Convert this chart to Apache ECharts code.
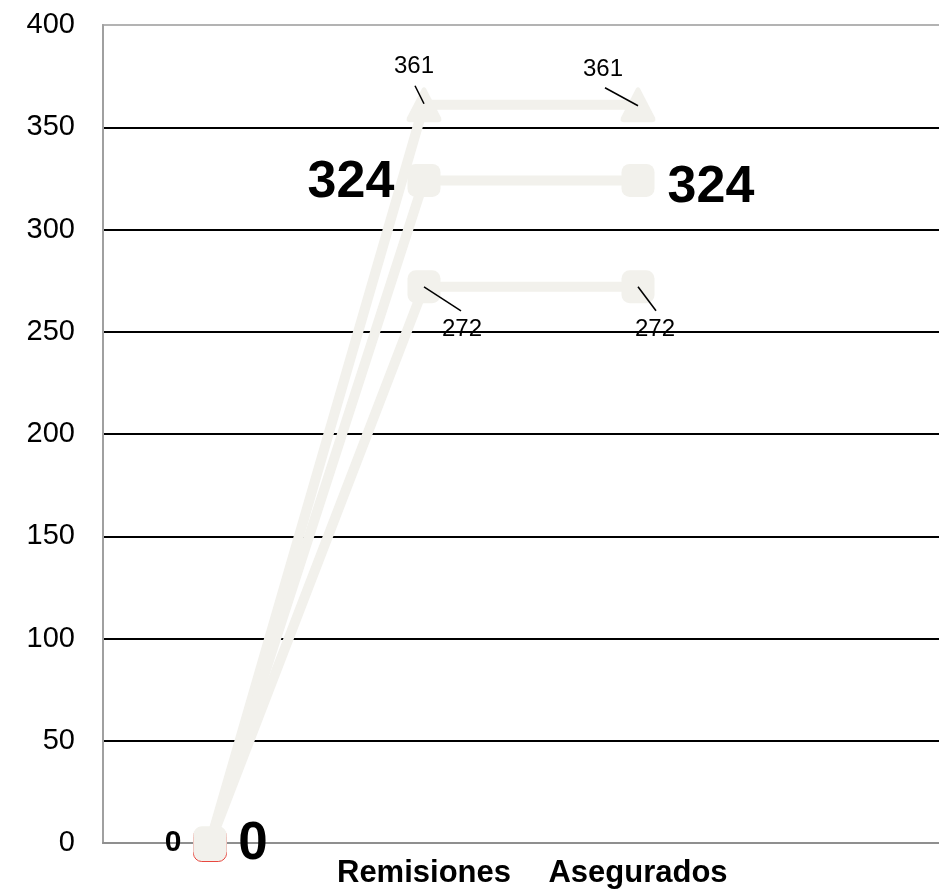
<!DOCTYPE html>
<html><head><meta charset="utf-8">
<script src="https://cdn.jsdelivr.net/npm/echarts@6/dist/echarts.min.js"></script>
<style>html,body{margin:0;padding:0;background:#fff}#chart{width:939px;height:896px}</style>
</head><body><div id="chart"></div>
<script>
// ---- data ----
const categories = ['', 'Remisiones', 'Asegurados', ''];
const valuesA = [0, 361, 361];
const valuesB = [0, 324, 324];
const valuesC = [0, 272, 272];
const yMin = 0, yMax = 400, yStep = 50;

// ---- label styling (pixel offsets relative to each point) ----
const FONT = '"Liberation Sans", Arial, sans-serif';
const labelStyleA = [
  null,
  { dx: -10, dy: -38, size: 24, bold: false, lead: [0, -1, -9, -19] },
  { dx: -35, dy: -35, size: 24, bold: false, lead: [0, 1, -33, -17] }
];
const labelStyleB = [
  { dx: 43, dy: 1, size: 53, bold: true },
  { dx: -73, dy: 2, size: 52, bold: true },
  { dx: 73, dy: 7, size: 52, bold: true }
];
const labelStyleC = [
  { dx: -37, dy: 0, size: 30, bold: true },
  { dx: 38, dy: 43, size: 24, bold: false, lead: [0, 0, 37, 24] },
  { dx: 17, dy: 43, size: 24, bold: false, lead: [0, 0, 18, 24] }
];

const LINE_COLOR = '#f2f1ec';
const ROUND_TRIANGLE = 'path://M44,4 Q50,-4 56,4 L98,86 Q104,100 90,100 L10,100 Q-4,100 2,86 Z';

function lineSeries(values, symbol, size, firstItemExtra) {
  return {
    type: 'line',
    data: values.map((v, i) => (i === 0 && firstItemExtra) ? Object.assign({ value: v }, firstItemExtra) : v),
    symbol: symbol,
    symbolSize: size,
    showAllSymbol: true,
    lineStyle: { color: LINE_COLOR, width: 10 },
    itemStyle: { color: LINE_COLOR, opacity: 1 },
    emphasis: { disabled: true },
    silent: true,
    z: 3
  };
}

function labelSeries(values, styles) {
  return {
    type: 'custom',
    data: values.map((v, i) => [i, v]),
    encode: { x: 0, y: 1 },
    clip: false,
    silent: true,
    z: 10,
    renderItem: function (params, api) {
      const st = styles[params.dataIndex];
      if (!st) return null;
      const p = api.coord([api.value(0), api.value(1)]);
      const children = [];
      if (st.lead) {
        children.push({
          type: 'line',
          shape: { x1: p[0] + st.lead[0], y1: p[1] + st.lead[1], x2: p[0] + st.lead[2], y2: p[1] + st.lead[3] },
          style: { stroke: '#000', lineWidth: 1.5 }
        });
      }
      children.push({
        type: 'text',
        style: {
          x: p[0] + st.dx, y: p[1] + st.dy,
          text: String(api.value(1)),
          fill: '#000',
          font: (st.bold ? 'bold ' : '') + st.size + 'px ' + FONT,
          align: 'center', verticalAlign: 'middle'
        }
      });
      return { type: 'group', children: children };
    }
  };
}

const chart = echarts.init(document.getElementById('chart'), null, { renderer: 'canvas' });
chart.setOption({
  animation: false,
  backgroundColor: '#fff',
  grid: {
    left: 103, top: 25, width: 856, height: 818,
    outerBoundsMode: 'none', containLabel: false,
    show: true, borderColor: '#b3b3b3', borderWidth: 2, backgroundColor: 'transparent'
  },
  xAxis: {
    type: 'category',
    data: categories,
    boundaryGap: true,
    axisLine: { show: true, lineStyle: { color: '#8f8f8f', width: 2 } },
    axisTick: { show: false },
    axisLabel: { interval: 0, color: '#000', fontSize: 31, fontWeight: 'bold', fontFamily: FONT, margin: 15 },
    splitLine: { show: false }
  },
  yAxis: {
    type: 'value',
    min: yMin, max: yMax, interval: yStep,
    axisLine: { show: true, lineStyle: { color: '#a0a0a0', width: 2 } },
    axisTick: { show: false },
    axisLabel: { color: '#000', fontSize: 29, fontFamily: FONT, margin: 28 },
    splitLine: { show: true, showMinLine: false, showMaxLine: false, lineStyle: { color: '#000', width: 2 } }
  },
  series: [
    lineSeries(valuesA, ROUND_TRIANGLE, 35, {
      symbol: 'roundRect', symbolSize: 33, symbolOffset: [0, 2],
      itemStyle: { color: LINE_COLOR, borderColor: '#e8483f', borderWidth: 1 }
    }),
    lineSeries(valuesB, 'roundRect', 33),
    lineSeries(valuesC, 'roundRect', 33),
    labelSeries(valuesA, labelStyleA),
    labelSeries(valuesB, labelStyleB),
    labelSeries(valuesC, labelStyleC)
  ]
});
</script>
</body></html>
